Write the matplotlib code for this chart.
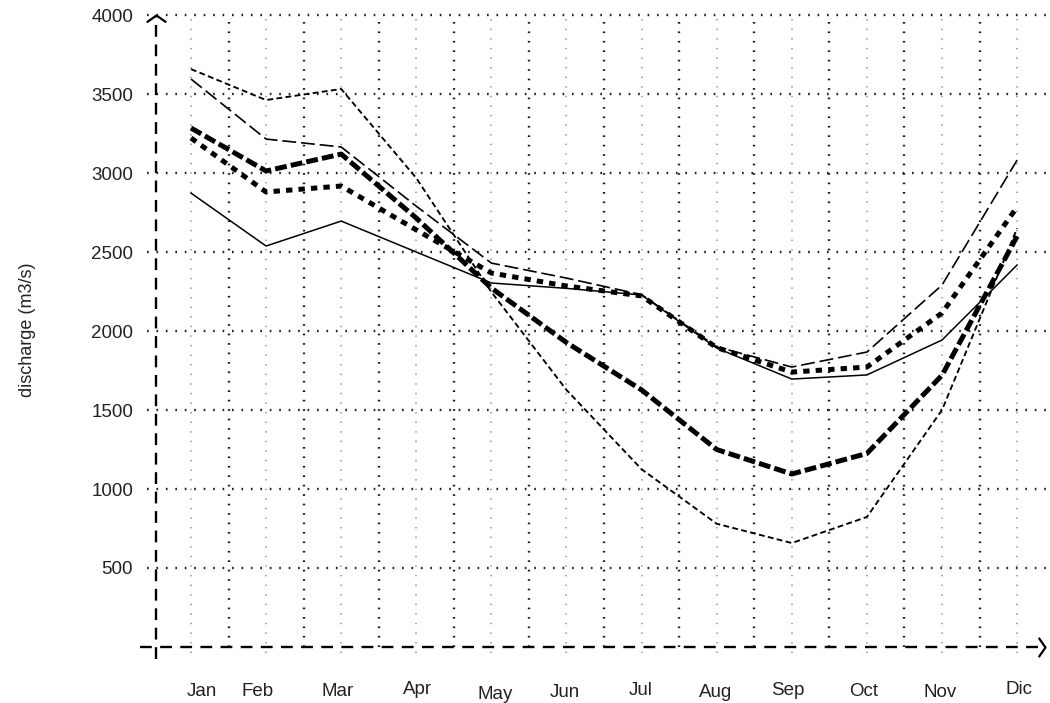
import matplotlib
matplotlib.use("Agg")
import matplotlib.pyplot as plt
from matplotlib.transforms import ScaledTranslation

plt.rcParams["font.family"] = ["Liberation Sans", "DejaVu Sans"]
plt.rcParams["lines.scale_dashes"] = False

months = ["Jan", "Feb", "Mar", "Apr", "May", "Jun", "Jul", "Aug", "Sep", "Oct", "Nov", "Dic"]
yticks = [500, 1000, 1500, 2000, 2500, 3000, 3500, 4000]

# monthly discharge (m3/s), five series
solid_thin = [2873, 2538, 2696, 2500, 2304, 2270, 2228, 1892, 1696, 1722, 1943, 2418]
dash_long = [3595, 3215, 3165, 2790, 2430, 2335, 2230, 1900, 1772, 1867, 2291, 3082]
dash_short = [3658, 3462, 3532, 2968, 2247, 1627, 1125, 780, 658, 823, 1500, 2650]
dash_thick = [3285, 3013, 3120, 2715, 2272, 1927, 1627, 1250, 1095, 1225, 1720, 2600]
dot_thick = [3222, 2880, 2918, 2640, 2367, 2285, 2222, 1895, 1740, 1772, 2114, 2785]

# hand-placed month labels wobble a little (pixels)
label_dx = [11, -9, -4, 1, 4, -2, -1, -1, -4, -3, -2, 2]
label_dy = [0, 0, 0, 2, -3, -1, 1, -1, 1, 0, -1, 2]

fig = plt.figure(figsize=(10.5, 7.03), dpi=100)
ax = fig.add_axes([140 / 1050, 41 / 703, 910 / 1050, 652 / 703])
x = list(range(len(months)))
ax.set_xlim(-0.679, 11.438)
ax.set_ylim(-95, 4032)

y_axis_x = -0.47
x_end = 11.37

# grid: horizontal black dots, vertical gray at months and black at half months
for v in yticks:
    ax.plot([-0.58, 11.44], [v, v], color="#222222", lw=1.7, dashes=(1.2, 5.6), zorder=1)
for m in x:
    ax.plot([m, m], [-40, 4000], color="#a0a0a0", lw=1.3, dashes=(1.0, 5.9), zorder=1)
for m in x[:-1]:
    ax.plot([m + 0.5, m + 0.5], [0, 4000], color="#1a1a1a", lw=1.7, dashes=(1.2, 5.6), zorder=1)

# dashed axes with open arrow heads
ax.plot([y_axis_x, y_axis_x], [-75, 4000], color="black", lw=1.7, dashes=(8.5, 5.5), zorder=3)
ax.plot([-0.68, x_end], [0, 0], color="black", lw=1.7, dashes=(8.5, 6.0), zorder=3)
ax.plot([y_axis_x], [4000], marker=[(-1, -0.7), (0, 0), (1, -0.7)], ms=14,
        mfc="none", mec="black", mew=1.6, zorder=4)
ax.plot([x_end], [0], marker=[(-0.7, 1), (0, 0), (-0.7, -1)], ms=14,
        mfc="none", mec="black", mew=1.6, zorder=4)

ax.plot(x, solid_thin, color="black", lw=1.1, zorder=5)
ax.plot(x, dash_long, color="black", lw=1.2, dashes=(10.0, 3.5), zorder=5)
ax.plot(x, dash_short, color="black", lw=1.35, dashes=(4.2, 2.4), zorder=5)
ax.plot(x, dash_thick, color="black", lw=3.6, dashes=(8.5, 3.0), zorder=5)
ax.plot(x, dot_thick, color="black", lw=3.6, dashes=(4.6, 4.4), zorder=5)

for side in ax.spines.values():
    side.set_visible(False)

ax.set_yticks(yticks)
ax.set_yticklabels([str(v) for v in yticks])
ax.set_xticks(x)
ax.set_xticklabels(months)
ax.tick_params(axis="both", length=0, labelsize=13.5, labelcolor="#222222")
ax.tick_params(axis="y", pad=5)
ax.tick_params(axis="x", pad=15)
for lab, dx, dy in zip(ax.get_xticklabels(), label_dx, label_dy):
    lab.set_transform(lab.get_transform() + ScaledTranslation(dx / 100, dy / 100, fig.dpi_scale_trans))

fig.text(28 / 1050, 1 - 330 / 703, "discharge (m3/s)", rotation=90, ha="center", va="center",
         fontsize=13, color="#222222")

fig.savefig("out.png", dpi=100)
